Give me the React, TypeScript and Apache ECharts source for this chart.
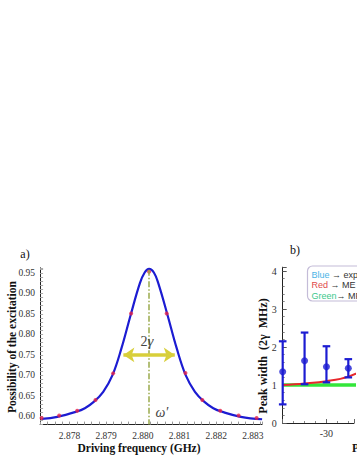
import React, { useEffect, useRef } from "react";
import * as echarts from "echarts";

// ---------- Panel a) data ----------
const curveFreq = [
  2.87724, 2.87767, 2.87817, 2.87842, 2.87867, 2.87892, 2.87917, 2.87942, 2.87967, 2.87992,
  2.88005, 2.88017, 2.8803, 2.88042, 2.88067, 2.88092, 2.88117, 2.88142, 2.88167, 2.88192,
  2.88217, 2.88267, 2.88325,
];
const curveProb = [
  0.594, 0.599, 0.611, 0.62, 0.636, 0.66, 0.7, 0.767, 0.848, 0.925,
  0.951, 0.96, 0.951, 0.925, 0.848, 0.767, 0.7, 0.66, 0.636, 0.62,
  0.611, 0.599, 0.593,
];
const dotFreq = [
  2.87724, 2.87772, 2.87821, 2.87871, 2.87919, 2.87968, 2.88017, 2.88065, 2.88116, 2.88162,
  2.88211, 2.88261, 2.8831,
];
const dotProb = [
  0.596, 0.602, 0.614, 0.64, 0.705, 0.851, 0.953, 0.851, 0.706, 0.64, 0.614, 0.602, 0.596,
];
const xTicksA = [2.878, 2.879, 2.88, 2.881, 2.882, 2.883];
const yTicksA = [0.6, 0.65, 0.7, 0.75, 0.8, 0.85, 0.9, 0.95];
const PEAK_FREQ = 2.88017;
const HALF_LEVEL = 0.75;
const ARROW_LEFT = 2.87947;
const ARROW_RIGHT = 2.88087;

// ---------- Panel b) data ----------
const powerX = [-40, -35, -30, -25];
const widthY = [1.35, 1.64, 1.48, 1.44];
const widthLow = [0.49, 1.02, 1.07, 1.2];
const widthHigh = [2.15, 2.38, 2.02, 1.68];
const redX = [-40, -35, -30, -25, -20];
const redY = [1.0, 1.04, 1.1, 1.22, 1.48];
const greenX = [-40, 0];
const greenY = [1.0, 1.0];
const xTicksB = [-30, -20, -10];
const yTicksB = [0, 1, 2, 3, 4];

const BLUE = "#1c1cd2";
const SERIF = "Liberation Serif";
const SANS = "Liberation Sans";

const near = (arr: number[], v: number) => arr.some((t) => Math.abs(t - v) < 1e-7);

export default function App() {
  const ref = useRef<HTMLDivElement>(null);

  useEffect(() => {
    if (!ref.current) return;
    const chart = echarts.init(ref.current, undefined, { renderer: "svg" });

    const axisLine = { show: true, lineStyle: { color: "#222", width: 1 } };
    const tickLabel = { fontFamily: SERIF, fontSize: 9.5, color: "#333" };

    const option: any = {
      animation: false,
      backgroundColor: "#fff",
      grid: [
        { left: 40.1, top: 267.8, width: 222, height: 156.8 },
        { left: 282.7, top: 267.2, right: 0, height: 155.8 },
      ],
      xAxis: [
        {
          gridIndex: 0,
          type: "value",
          min: 2.8772,
          max: 2.88325,
          interval: 0.0002,
          axisLine,
          axisTick: { show: true, inside: true, length: 3, lineStyle: { color: "#999" } },
          splitLine: { show: false },
          axisLabel: {
            ...tickLabel,
            margin: 6,
            formatter: (v: number) => (near(xTicksA, v) ? v.toFixed(3) : ""),
          },
        },
        {
          gridIndex: 1,
          type: "value",
          position: "bottom",
          min: -40,
          max: -23.7,
          interval: 2.5,
          axisLine,
          axisTick: { show: true, inside: true, length: 2, lineStyle: { color: "#888" } },
          splitLine: { show: false },
          axisLabel: { show: false },
        },
        {
          gridIndex: 1,
          type: "value",
          position: "bottom",
          min: -40,
          max: -23.7,
          interval: 10,
          axisLine: { show: false },
          axisTick: { show: true, inside: true, length: 4, lineStyle: { color: "#666" } },
          splitLine: { show: false },
          axisLabel: {
            ...tickLabel,
            fontSize: 10,
            margin: 5,
            formatter: (v: number) => (near(xTicksB, v) ? String(v) : ""),
          },
        },
      ],
      yAxis: [
        {
          gridIndex: 0,
          type: "value",
          min: 0.58,
          max: 0.9625,
          interval: 0.01,
          axisLine,
          axisTick: { show: true, inside: true, length: 3, lineStyle: { color: "#aaa" } },
          splitLine: { show: false },
          axisLabel: {
            ...tickLabel,
            margin: 5,
            formatter: (v: number) => (near(yTicksA, v) ? v.toFixed(2) : ""),
          },
        },
        {
          gridIndex: 1,
          type: "value",
          position: "left",
          min: 0,
          max: 4.1,
          interval: 0.2,
          axisLine,
          axisTick: { show: true, inside: true, length: 2, lineStyle: { color: "#888" } },
          splitLine: { show: false },
          axisLabel: { show: false },
        },
        {
          gridIndex: 1,
          type: "value",
          position: "left",
          min: 0,
          max: 4.1,
          interval: 1,
          axisLine: { show: false },
          axisTick: { show: true, inside: true, length: 4, lineStyle: { color: "#555" } },
          splitLine: { show: false },
          axisLabel: {
            ...tickLabel,
            fontSize: 10,
            margin: 6,
            formatter: (v: number) => (near(yTicksB, v) ? String(v) : ""),
          },
        },
      ],
      series: [
        {
          type: "line",
          xAxisIndex: 0,
          yAxisIndex: 0,
          data: curveFreq.map((f, i) => [f, curveProb[i]]),
          smooth: 0.4,
          showSymbol: false,
          lineStyle: { color: BLUE, width: 2.2 },
          z: 3,
          markLine: {
            silent: true,
            animation: false,
            label: { show: false },
            symbol: ["none", "none"],
            data: [
              [
                { coord: [PEAK_FREQ, 0.958], symbol: "none", lineStyle: { color: "#9aab4c", width: 1.5, type: [6, 2, 1.5, 2] } },
                { coord: [PEAK_FREQ, 0.58], symbol: "none" },
              ],
              [
                { coord: [ARROW_LEFT, HALF_LEVEL], symbol: "arrow", symbolSize: 11, lineStyle: { color: "#d8cf3a", width: 3.5, type: "solid" } },
                { coord: [ARROW_RIGHT, HALF_LEVEL], symbol: "arrow", symbolSize: 11 },
              ],
            ],
          },
          markPoint: {
            silent: true,
            animation: false,
            data: [
              {
                coord: [2.88011, 0.783],
                symbol: "circle",
                symbolSize: 1,
                itemStyle: { color: "rgba(0,0,0,0)" },
                label: {
                  show: true,
                  position: "inside",
                  formatter: "{n|2}{g|γ}",
                  rich: {
                    n: { fontFamily: SERIF, fontSize: 14, color: "#444" },
                    g: { fontFamily: SERIF, fontSize: 15, fontStyle: "italic", color: "#444" },
                  },
                },
              },
              {
                coord: [2.88052, 0.609],
                symbol: "circle",
                symbolSize: 1,
                itemStyle: { color: "rgba(0,0,0,0)" },
                label: {
                  show: true,
                  position: "inside",
                  formatter: "ω′",
                  fontFamily: SERIF,
                  fontSize: 14,
                  fontStyle: "italic",
                  color: "#444",
                },
              },
            ],
          },
        },
        {
          type: "scatter",
          xAxisIndex: 0,
          yAxisIndex: 0,
          data: dotFreq.map((f, i) => [f, dotProb[i]]),
          symbolSize: 4,
          itemStyle: { color: "#e6234a" },
          z: 4,
        },
        {
          type: "line",
          xAxisIndex: 1,
          yAxisIndex: 1,
          data: greenX.map((x, i) => [x, greenY[i]]),
          showSymbol: false,
          lineStyle: { color: "#33e63a", width: 3.5 },
          z: 2,
        },
        {
          type: "line",
          xAxisIndex: 1,
          yAxisIndex: 1,
          data: redX.map((x, i) => [x, redY[i]]),
          smooth: 0.4,
          showSymbol: false,
          lineStyle: { color: "#e8282c", width: 2 },
          z: 3,
        },
        {
          type: "custom",
          xAxisIndex: 1,
          yAxisIndex: 1,
          data: powerX.map((x, i) => [x, widthLow[i], widthHigh[i]]),
          encode: { x: 0, y: [1, 2] },
          z: 4,
          renderItem: (params: any, api: any) => {
            const x = api.value(0);
            const top = api.coord([x, api.value(2)]);
            const bot = api.coord([x, api.value(1)]);
            const cap = 3.8;
            const style = { stroke: BLUE, lineWidth: 2.2 };
            return {
              type: "group",
              children: [
                { type: "line", shape: { x1: top[0], y1: top[1], x2: bot[0], y2: bot[1] }, style },
                { type: "line", shape: { x1: top[0] - cap, y1: top[1], x2: top[0] + cap, y2: top[1] }, style },
                { type: "line", shape: { x1: bot[0] - cap, y1: bot[1], x2: bot[0] + cap, y2: bot[1] }, style },
              ],
            };
          },
        },
        {
          type: "scatter",
          xAxisIndex: 1,
          yAxisIndex: 1,
          data: powerX.map((x, i) => [x, widthY[i]]),
          symbolSize: 7,
          itemStyle: { color: BLUE },
          z: 5,
        },
      ],
      graphic: [
        { type: "text", x: 25, y: 254, style: { text: "a)", font: `12px "${SERIF}"`, fill: "#111", textAlign: "center", textVerticalAlign: "middle" } },
        { type: "text", x: 295, y: 250, style: { text: "b)", font: `12px "${SERIF}"`, fill: "#111", textAlign: "center", textVerticalAlign: "middle" } },
        {
          type: "text",
          x: 11.5,
          y: 347,
          rotation: Math.PI / 2,
          style: { text: "Possibility of the excitation", font: `bold 11.5px "${SERIF}"`, fill: "#111", textAlign: "center", textVerticalAlign: "middle" },
        },
        {
          type: "text",
          x: 139,
          y: 448,
          style: { text: "Driving frequency (GHz)", font: `bold 11.5px "${SERIF}"`, fill: "#111", textAlign: "center", textVerticalAlign: "middle" },
        },
        {
          type: "text",
          x: 263,
          y: 356,
          rotation: Math.PI / 2,
          style: { text: "Peak width  (2γ  MHz)", font: `bold 12px "${SERIF}"`, fill: "#111", textAlign: "center", textVerticalAlign: "middle" },
        },
        {
          type: "text",
          x: 352,
          y: 448,
          style: { text: "Power (dBm)", font: `bold 11.5px "${SERIF}"`, fill: "#111", textAlign: "left", textVerticalAlign: "middle" },
        },
        {
          type: "rect",
          shape: { x: 307.5, y: 266, width: 90, height: 35, r: 5 },
          style: { fill: "#fff", stroke: "#c4bcd8", lineWidth: 1.2 },
          z: 10,
        },
        {
          type: "text",
          x: 311.5,
          y: 274.5,
          z: 11,
          style: {
            text: "{c|Blue} → experiment",
            font: `9px "${SANS}"`,
            fill: "#333",
            textVerticalAlign: "middle",
            rich: { c: { fill: "#4ab4e6", font: `9px "${SANS}"` } },
          },
        },
        {
          type: "text",
          x: 311.5,
          y: 285.3,
          z: 11,
          style: {
            text: "{c|Red} → ME theory",
            font: `9px "${SANS}"`,
            fill: "#333",
            textVerticalAlign: "middle",
            rich: { c: { fill: "#e04a4a", font: `9px "${SANS}"` } },
          },
        },
        {
          type: "text",
          x: 311.5,
          y: 295.8,
          z: 11,
          style: {
            text: "{c|Green}→ MF theory",
            font: `9px "${SANS}"`,
            fill: "#333",
            textVerticalAlign: "middle",
            rich: { c: { fill: "#3cc88c", font: `9px "${SANS}"` } },
          },
        },
      ],
    };

    chart.setOption(option);
    return () => chart.dispose();
  }, []);

  return (
    <div
      ref={ref}
      style={{ position: "fixed", left: 0, top: 0, width: 357, height: 462, background: "#fff" }}
    />
  );
}
